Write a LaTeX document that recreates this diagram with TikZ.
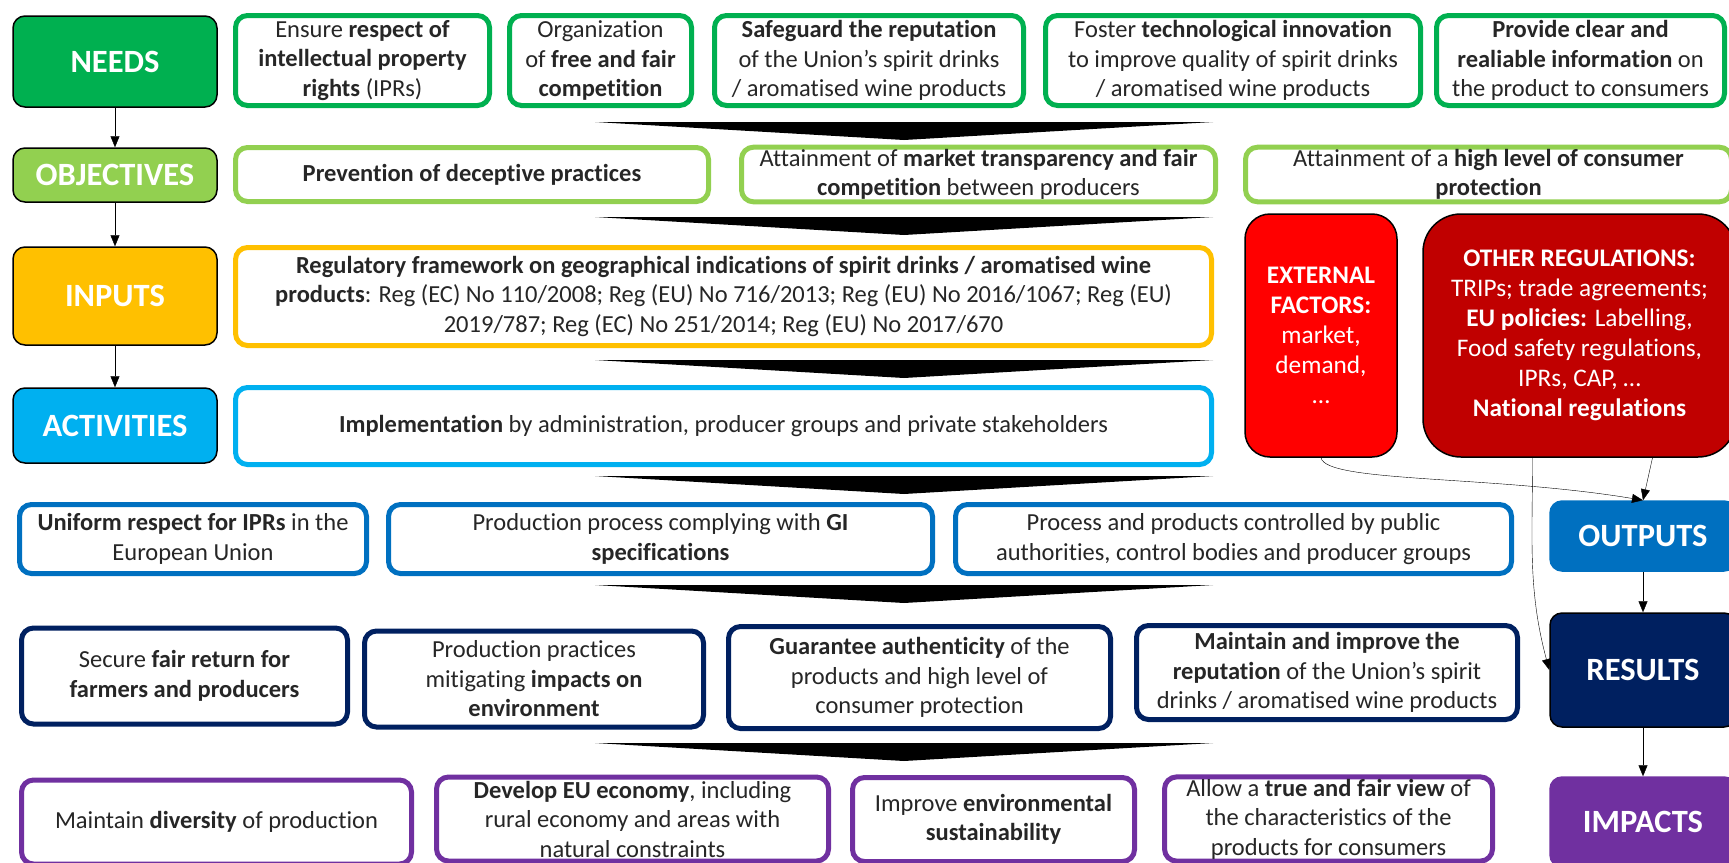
\documentclass[tikz,border=0pt]{standalone}
\usepackage{fontspec}
\setmainfont{Carlito}[Ligatures=CommonOff]
\usetikzlibrary{arrows.meta,positioning}

\definecolor{needgreen}{HTML}{00B050}
\definecolor{objgreen}{HTML}{92D050}
\definecolor{inpyellow}{HTML}{FFC000}
\definecolor{actblue}{HTML}{00B0F0}
\definecolor{outblue}{HTML}{0070C0}
\definecolor{resnavy}{HTML}{002060}
\definecolor{imppurple}{HTML}{7030A0}
\definecolor{extred}{HTML}{FF0000}
\definecolor{othred}{HTML}{C00000}
\definecolor{bodytext}{HTML}{262626}

\begin{document}
\begin{tikzpicture}[x=1pt,y=1pt,>={Triangle[length=11pt,width=9pt]},node distance=15pt,
  lbl/.style={draw=black,line width=1.5pt,rounded corners=12pt,text=white,
    font=\fontsize{32.5}{36}\selectfont\bfseries,minimum width=204pt,align=center},
  box/.style={draw,line width=5pt,rounded corners=12pt,fill=white,align=center,
    inner sep=2pt,text=bodytext,font=\fontsize{24.5}{29.5}\selectfont},
  needbox/.style={box,draw=needgreen,minimum height=90pt},
  objbox/.style={box,draw=objgreen,minimum height=54pt},
  inpbox/.style={box,draw=inpyellow},
  actbox/.style={box,draw=actblue},
  outbox/.style={box,draw=outblue,minimum height=69pt},
  resbox/.style={box,draw=resnavy},
  impbox/.style={box,draw=imppurple,minimum height=84pt},
  factor/.style={draw=black,line width=1.5pt,text=white,align=center,
    font=\fontsize{25.3}{30}\selectfont,minimum height=243pt}]

\useasboundingbox (0,0) rectangle (1729,-862);

% left and right columns
\node[lbl,fill=needgreen,minimum height=91pt] (needs) at (115,-61.5) {NEEDS};
\node[lbl,fill=objgreen,minimum height=54pt]  (obj)   at (115,-175)  {OBJECTIVES};
\node[lbl,fill=inpyellow,minimum height=98pt] (inp)   at (115,-296)  {INPUTS};
\node[lbl,fill=actblue,minimum height=75pt]   (act)   at (115,-425.5) {ACTIVITIES};
\node[lbl,draw=outblue,fill=outblue,minimum width=186pt,minimum height=70pt] (outp) at (1643,-536) {OUTPUTS};
\node[lbl,fill=resnavy,minimum width=186pt,minimum height=114pt] (resl) at (1643,-670) {RESULTS};
\node[lbl,draw=imppurple,fill=imppurple,minimum width=186pt,minimum height=90pt] (impa) at (1643,-822) {IMPACTS};

% needs
\node[needbox,minimum width=254pt] (nd1) at (362.5,-60.5) {Ensure \textbf{respect of}\\\textbf{intellectual property}\\\textbf{rights} (IPRs)};
\node[needbox,minimum width=182pt,right=15pt of nd1] (nd2) {Organization\\of \textbf{free and fair}\\\textbf{competition}};
\node[needbox,minimum width=309pt,right=18pt of nd2] (nd3) {\textbf{Safeguard the reputation}\\of the Union’s spirit drinks\\/ aromatised wine products};
\node[needbox,minimum width=375pt,right=17pt of nd3] (nd4) {Foster \textbf{technological innovation}\\to improve quality of spirit drinks\\/ aromatised wine products};
\node[needbox,minimum width=288pt,right=11pt of nd4] (nd5) {\textbf{Provide clear and}\\\textbf{realiable information} on\\the product to consumers};

% objectives
\node[objbox,minimum width=473pt] (ob1) at (472,-174.5) {\textbf{Prevention of deceptive practices}};
\node[objbox,minimum width=474pt,right=28pt of ob1] (ob2) {Attainment of \textbf{market transparency and fair}\\\textbf{competition} between producers};
\node[objbox,minimum width=486pt,right=25pt of ob2] (ob3) {Attainment of a \textbf{high level of consumer}\\\textbf{protection}};

% inputs and activities
\node[inpbox,minimum width=976pt,minimum height=98pt] (in1) at (723.5,-296.5) {\textbf{Regulatory framework on geographical indications of spirit drinks / aromatised wine}\\\textbf{products}: Reg (EC) No 110/2008; Reg (EU) No 716/2013; Reg (EU) No 2016/1067; Reg (EU)\\2019/787; Reg (EC) No 251/2014; Reg (EU) No 2017/670};
\node[actbox,minimum width=976pt,minimum height=77pt] (ac1) at (723.5,-426) {\textbf{Implementation} by administration, producer groups and private stakeholders};

% external factors
\node[factor,fill=extred,rounded corners=25pt,minimum width=152pt] (ext) at (1321,-335.5) {\textbf{EXTERNAL}\\\textbf{FACTORS:}\\market,\\demand,\\…};
\node[factor,fill=othred,rounded corners=38pt,minimum width=313pt] (oth) at (1579.5,-335.5) {\textbf{OTHER REGULATIONS:}\\TRIPs; trade agreements;\\\textbf{EU policies:} Labelling,\\Food safety regulations,\\IPRs, CAP, …\\\textbf{National regulations}};

% outputs
\node[outbox,minimum width=347pt] (op1) at (193,-539) {\textbf{Uniform respect for IPRs} in the\\European Union};
\node[outbox,minimum width=544pt,right=17pt of op1] (op2) {Production process complying with \textbf{GI}\\\textbf{specifications}};
\node[outbox,minimum width=556pt,right=18pt of op2] (op3) {Process and products controlled by public\\authorities, control bodies and producer groups};

% results
\node[resbox,minimum width=326pt,minimum height=96pt] (rs1) at (184.5,-676) {Secure \textbf{fair return for}\\\textbf{farmers and producers}};
\node[resbox,minimum width=339pt,minimum height=96pt] (rs2) at (534,-679) {Production practices\\mitigating \textbf{impacts on}\\\textbf{environment}};
\node[resbox,minimum width=382pt,minimum height=102pt] (rs3) at (919.5,-677.5) {\textbf{Guarantee authenticity} of the\\products and high level of\\consumer protection};
\node[resbox,minimum width=381pt,minimum height=94pt] (rs4) at (1327,-672.5) {\textbf{Maintain and improve the}\\\textbf{reputation} of the Union’s spirit\\drinks / aromatised wine products};

% impacts
\node[impbox,minimum width=390pt] (ip1) at (216.5,-822) {Maintain \textbf{diversity} of production};
\node[impbox,minimum width=392pt] (ip2) at (632.5,-819) {\textbf{Develop EU economy}, including\\rural economy and areas with\\natural constraints};
\node[impbox,minimum width=282pt] (ip3) at (993.5,-819.5) {Improve \textbf{environmental}\\\textbf{sustainability}};
\node[impbox,minimum width=328pt] (ip4) at (1328.5,-819) {Allow a \textbf{true and fair view} of\\the characteristics of the\\products for consumers};

% wide arrows between the rows
\foreach \y in {122,217,360,476,585,743}
  \fill[black] (595,-\y) -- (1213,-\y) -- (904,-\y-18) -- cycle;

\path[->] (needs) edge (obj)
          (obj)   edge (inp)
          (inp)   edge (act)
          (outp)  edge (resl)
          (resl)  edge (impa);
\draw[->] (ext.south) .. controls +(5,-25) and +(-150,25) .. (outp.north);
\path[->] ([xshift=73pt]oth.south) edge (outp.north)
          ([xshift=-47pt]oth.south) edge[out=-90,in=105] (resl.west);
\end{tikzpicture}
\end{document}
